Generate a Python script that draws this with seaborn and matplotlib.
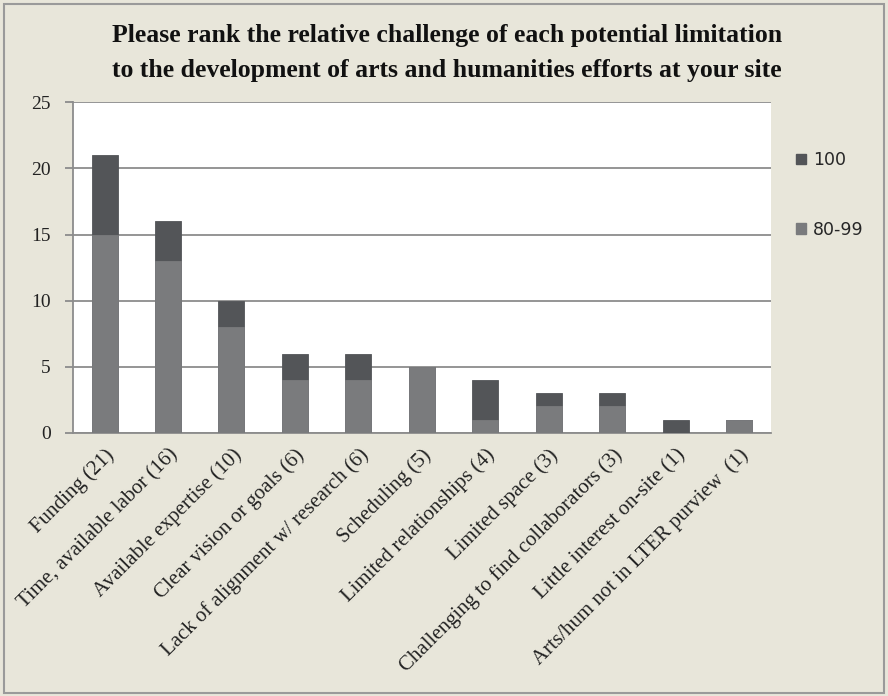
import matplotlib
matplotlib.use("Agg")
import matplotlib.pyplot as plt
from matplotlib.patches import Patch, Rectangle
import seaborn as sns
import pandas as pd

categories = [
    "Funding (21)",
    "Time, available labor (16)",
    "Available expertise (10)",
    "Clear vision or goals (6)",
    "Lack of alignment w/ research (6)",
    "Scheduling (5)",
    "Limited relationships (4)",
    "Limited space (3)",
    "Challenging to find collaborators (3)",
    "Little interest on-site (1)",
    "Arts/hum not in LTER purview  (1)",
]
rank_80_99 = [15, 13, 8, 4, 4, 5, 1, 2, 2, 0, 1]
rank_100 = [6, 3, 2, 2, 2, 0, 3, 1, 1, 1, 0]
series_labels = ["100", "80-99"]
y_ticks = [0, 5, 10, 15, 20, 25]

df = pd.DataFrame({
    "category": categories,
    "r80": rank_80_99,
    "r100": rank_100,
})
df["total"] = df["r80"] + df["r100"]

bg = "#E8E6DA"
c100 = "#535558"
c80 = "#7A7B7D"

sns.set_theme(style="white")
plt.rcParams["font.family"] = ["Liberation Serif", "DejaVu Serif"]

fig = plt.figure(figsize=(8.88, 6.96), dpi=100, facecolor=bg)
ax = fig.add_axes([0.082, 0.378, 0.786, 0.475])
ax.set_facecolor("white")

# stacked bars: full total in dark grey, 80-99 portion drawn over it
sns.barplot(data=df, x="category", y="total", color=c100, width=0.41,
            saturation=1, ax=ax, zorder=3, edgecolor=c100, linewidth=0.6)
sns.barplot(data=df, x="category", y="r80", color=c80, width=0.41,
            saturation=1, ax=ax, zorder=4, edgecolor=c80, linewidth=0.6)

ax.set_ylim(0, 25)
ax.set_yticks(y_ticks)
ax.set_yticklabels([str(t) for t in y_ticks], fontsize=14, color="#222222")
ax.yaxis.grid(True, color="#8C8C8C", linewidth=1.3, zorder=0)
ax.set_axisbelow(True)
ax.set_xlim(-0.5, len(categories) - 0.5)
ax.set_xlabel("")
ax.set_ylabel("")

# category labels at bar centres, tick marks at category boundaries
ax.set_xticks(range(len(categories)))
ax.set_xticklabels(categories, rotation=45, ha="right", rotation_mode="anchor",
                   fontsize=15, color="#222222")
ax.tick_params(axis="x", length=0, pad=9)
ax.set_xticks([i - 0.5 for i in range(len(categories) + 1)], minor=True)
ax.tick_params(axis="x", which="minor", length=6, width=1.3, color="#8C8C8C",
               direction="out")
ax.tick_params(axis="y", length=6, width=1.3, color="#8C8C8C", direction="out",
               left=True, pad=10)

for side in ["top", "right"]:
    ax.spines[side].set_visible(False)
for side in ["left", "bottom"]:
    ax.spines[side].set_color("#8C8C8C")
    ax.spines[side].set_linewidth(1.3)

fig.suptitle("Please rank the relative challenge of each potential limitation\n"
             "to the development of arts and humanities efforts at your site",
             x=0.503, y=0.965, fontsize=18.5, fontweight="bold", color="#111111",
             linespacing=1.65)

handles = [Patch(facecolor=c100, edgecolor=c100), Patch(facecolor=c80, edgecolor=c80)]
fig.legend(handles, series_labels, loc="upper left", bbox_to_anchor=(0.879, 0.805),
           frameon=False, handlelength=0.55, handleheight=0.55, handletextpad=0.4,
           labelspacing=2.95, prop={"family": "DejaVu Sans", "size": 12.5})

fig.patches.append(Rectangle((0.004, 0.004), 0.992, 0.99, transform=fig.transFigure,
                             fill=False, edgecolor="#9A9A9A", linewidth=1.5))

fig.savefig("out.png", dpi=100, facecolor=bg)
